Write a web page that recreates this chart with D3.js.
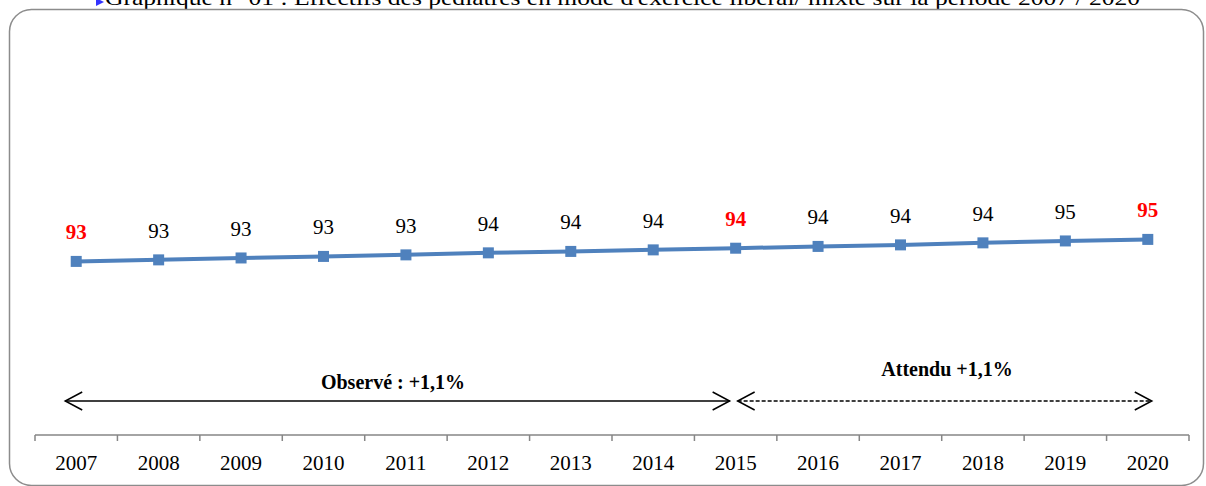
<!DOCTYPE html>
<html>
<head>
<meta charset="utf-8">
<script src="https://cdn.jsdelivr.net/npm/d3@7"></script>
<style>
  html, body { margin: 0; padding: 0; background: #fff; overflow: hidden; }
  svg { display: block; font-family: "Liberation Serif", "DejaVu Serif", serif; }
</style>
</head>
<body>
<svg id="chart" width="1206" height="486"></svg>
<script>
// Effectifs (pédiatres), période 2007 - 2020
const years = ["2007","2008","2009","2010","2011","2012","2013","2014","2015","2016","2017","2018","2019","2020"];
const values = [92.89, 93.02, 93.18, 93.31, 93.44, 93.61, 93.73, 93.86, 94.00, 94.15, 94.28, 94.45, 94.61, 94.74];
// years whose value label is highlighted
const highlighted = ["2007", "2015", "2020"];
const title = "Graphique n° 01 : Effectifs des pédiatres en mode d'exercice libéral/ mixte sur la période 2007 / 2020";
const periods = [
  { label: "Observé : +1,1%", from: "2007", to: "2015", dashed: false },
  { label: "Attendu +1,1%", from: "2015", to: "2020", dashed: true }
];

const svg = d3.select("#chart");

// caption line, partly above the frame
svg.append("path")
  .attr("d", "M96,-2 L104,2 L96,6 Z")
  .attr("fill", "#3333ff");
svg.append("text")
  .attr("x", 105).attr("y", 5)
  .attr("font-size", 21)
  .attr("textLength", 1035)
  .attr("lengthAdjust", "spacingAndGlyphs")
  .attr("fill", "#000")
  .text(title);

// rounded chart frame
svg.append("rect")
  .attr("x", 9.5).attr("y", 9.5)
  .attr("width", 1194).attr("height", 476)
  .attr("rx", 22).attr("ry", 22)
  .attr("fill", "#fff")
  .attr("stroke", "#8c8c8c").attr("stroke-width", 1.5);

const plot = { left: 35, right: 1189, top: 40, bottom: 435 };

const x = d3.scaleBand()
  .domain(years)
  .range([plot.left, plot.right]);

const y = d3.scaleLinear()
  .domain([78.3, 111.5])
  .range([plot.bottom, plot.top]);

const cx = d => x(d) + x.bandwidth() / 2;

// category axis with ticks between categories
const axis = d3.axisBottom(x).tickSize(0).tickPadding(0);
const gx = svg.append("g")
  .attr("transform", `translate(0,${plot.bottom})`)
  .call(axis);
gx.select(".domain").remove();
gx.selectAll(".tick text")
  .attr("y", 35)
  .attr("dy", 0)
  .attr("font-size", 21)
  .attr("font-family", "Liberation Serif, DejaVu Serif, serif")
  .attr("fill", "#000");
gx.append("line")
  .attr("x1", plot.left).attr("x2", plot.right)
  .attr("y1", 0).attr("y2", 0)
  .attr("stroke", "#868686").attr("stroke-width", 1.5);
const boundaries = years.map(d => x(d)).concat([x(years[years.length - 1]) + x.bandwidth()]);
gx.selectAll("line.sep")
  .data(boundaries)
  .join("line")
  .attr("class", "sep")
  .attr("x1", d => d).attr("x2", d => d)
  .attr("y1", 0).attr("y2", 6)
  .attr("stroke", "#868686").attr("stroke-width", 1.5);

// series line
const series = years.map((yr, i) => ({ year: yr, value: values[i] }));
const line = d3.line()
  .x(d => cx(d.year))
  .y(d => y(d.value));

svg.append("path")
  .datum(series)
  .attr("d", line)
  .attr("fill", "none")
  .attr("stroke", "#4F81BD")
  .attr("stroke-width", 4);

// square markers
const ms = 11;
svg.selectAll("rect.marker")
  .data(series)
  .join("rect")
  .attr("class", "marker")
  .attr("x", d => cx(d.year) - ms / 2)
  .attr("y", d => y(d.value) - ms / 2)
  .attr("width", ms).attr("height", ms)
  .attr("fill", "#4F81BD");

// value labels
const fmt = d3.format(".0f");
svg.selectAll("text.vlabel")
  .data(series)
  .join("text")
  .attr("class", "vlabel")
  .attr("x", d => cx(d.year))
  .attr("y", d => y(d.value) - 22)
  .attr("text-anchor", "middle")
  .attr("font-size", 21)
  .attr("font-weight", d => highlighted.includes(d.year) ? "bold" : "normal")
  .attr("fill", d => highlighted.includes(d.year) ? "#ff0000" : "#000")
  .text(d => fmt(d.value));

// period arrows
const arrowY = 401;
function chevron(tipX, dir) {
  // dir = -1 points left, +1 points right
  const len = 17, half = 9;
  return `M${tipX - dir * len},${arrowY - half} L${tipX},${arrowY} L${tipX - dir * len},${arrowY + half}`;
}
const p0 = periods[0], p1 = periods[1];
const obsStart = cx(p0.from) - 11, obsEnd = cx(p0.to) - 6;
const attStart = cx(p1.from) + 2, attEnd = cx(p1.to) + 4;

const ga = svg.append("g").attr("fill", "none").attr("stroke", "#000").attr("stroke-width", 1.5);
ga.append("line").attr("x1", obsStart).attr("x2", obsEnd).attr("y1", arrowY).attr("y2", arrowY);
ga.append("path").attr("d", chevron(obsStart, -1));
ga.append("path").attr("d", chevron(obsEnd, 1));
ga.append("line").attr("x1", attStart).attr("x2", attEnd).attr("y1", arrowY).attr("y2", arrowY)
  .attr("stroke-width", 1.4).attr("stroke-dasharray", "4,2");
ga.append("path").attr("d", chevron(attStart, -1));
ga.append("path").attr("d", chevron(attEnd, 1));

svg.append("text")
  .attr("x", 393).attr("y", 389)
  .attr("text-anchor", "middle")
  .attr("font-size", 20).attr("font-weight", "bold")
  .text(p0.label);
svg.append("text")
  .attr("x", 947).attr("y", 376)
  .attr("text-anchor", "middle")
  .attr("font-size", 20).attr("font-weight", "bold")
  .text(p1.label);
</script>
</body>
</html>
